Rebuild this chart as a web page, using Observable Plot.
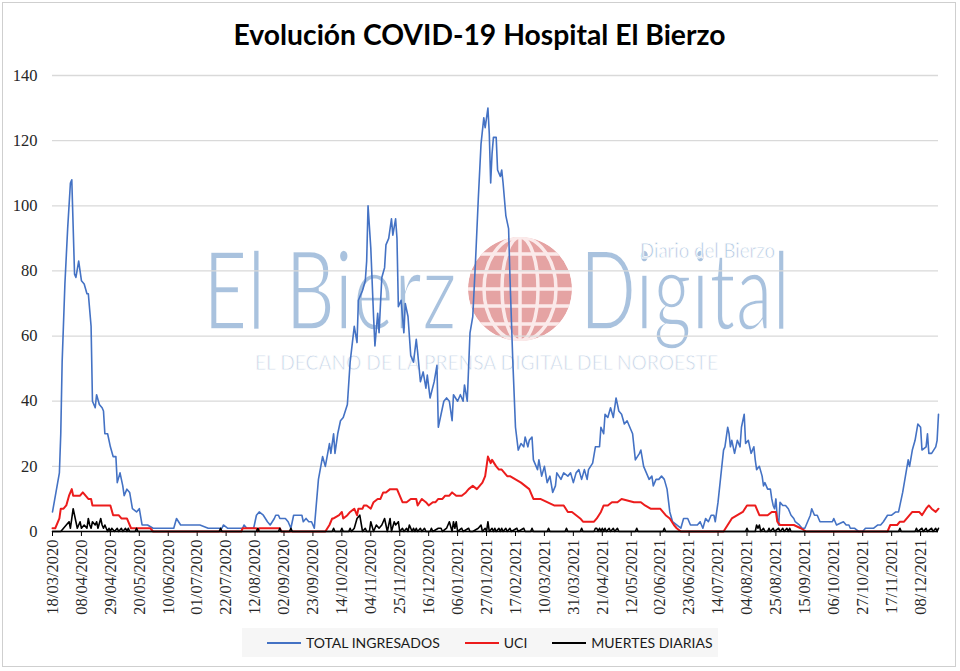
<!DOCTYPE html>
<html>
<head>
<meta charset="utf-8">
<script src="https://cdn.jsdelivr.net/npm/d3@7"></script>
<script src="https://cdn.jsdelivr.net/npm/@observablehq/plot@0.6"></script>
<style>
  html, body { margin: 0; padding: 0; background: #fff; }
  #wrap { position: relative; width: 960px; height: 671px; overflow: hidden; background: #fff; }
  #frame { position: absolute; left: 2px; top: 2px; width: 952px; height: 663px; border: 1.5px solid #cfcfcf; }
  #title { position: absolute; top: 17px; left: 0; width: 960px; text-align: center; font-family: Lato, "Open Sans", sans-serif; font-weight: 700; font-size: 28px; color: #000; white-space: nowrap; }
  #title span { display: inline-block; transform-origin: center; }
  #mark { position: absolute; left: 0; top: 0; }
  #chart { position: absolute; left: 0; top: 60px; }
  #legend { position: absolute; left: 242px; top: 628px; width: 476px; height: 29px; background: #f6f6f6; display: flex; align-items: center; font-family: Lato, "Open Sans", sans-serif; font-size: 14px; color: #1a1a1a; }
  .item { display: flex; align-items: center; }
  .sw { width: 34px; height: 0; border-top: 2px solid; margin-right: 5px; }
</style>
</head>
<body>
<div id="wrap">
  <svg id="mark" width="960" height="671">
    <defs><clipPath id="globeClip"><circle cx="520" cy="289" r="52"/></clipPath></defs>
    <g font-family="Lato, 'Open Sans', sans-serif" fill="#a9c2de" stroke="#fff">
      <text x="203" y="330" font-size="111" stroke-width="3.5" textLength="254" lengthAdjust="spacingAndGlyphs">El Bierz</text>
      <text x="580" y="330" font-size="111" stroke-width="3.5" textLength="210" lengthAdjust="spacingAndGlyphs">Digital</text>
      <text x="640" y="258" font-size="21" stroke-width="0.8" textLength="135" lengthAdjust="spacingAndGlyphs">Diario del Bierzo</text>
      <text x="255" y="370" font-size="21" stroke-width="0.8" fill="#c4d3e6" textLength="463" lengthAdjust="spacingAndGlyphs">EL DECANO DE LA PRENSA DIGITAL DEL NOROESTE</text>
    </g>
    <g clip-path="url(#globeClip)">
      <circle cx="520" cy="289" r="52" fill="#e5a3a3"/>
      <g stroke="#fbeaea" stroke-width="3.5" fill="none">
        <line x1="460" y1="254" x2="590" y2="254"/>
        <line x1="460" y1="272" x2="590" y2="272"/>
        <line x1="460" y1="289" x2="590" y2="289"/>
        <line x1="460" y1="306" x2="590" y2="306"/>
        <line x1="460" y1="324" x2="590" y2="324"/>
        <line x1="520" y1="230" x2="520" y2="350"/>
        <ellipse cx="520" cy="289" rx="18" ry="52"/>
        <ellipse cx="520" cy="289" rx="36" ry="52"/>
      </g>
    </g>
  </svg>
  <div id="frame"></div>
  <div id="title"><span>Evolución COVID-19 Hospital El Bierzo</span></div>
  <div id="chart"></div>
  <div id="legend"></div>
</div>
<script>
// ---- Datos (día desde 18/03/2020, valor) ----
const fechaInicio = "18/03/2020";
const diaFinal = 643;

const totalIngresados = [[0,6],[5,18],[6,30],[7,52],[9,76],[11,93],[13,107],[14,108],[16,79],[17,78],[19,83],[21,77],[23,76],[25,73],[26,73],[28,63],[29,40],[31,38],[32,42],[34,39],[36,38],[37,37],[38,30],[40,30],[42,26],[44,23],[46,23],[47,15],[49,18],[51,14],[52,11],[54,13],[56,12],[58,7],[61,6],[63,7],[65,2],[69,2],[73,1],[88,1],[90,4],[93,2],[107,2],[113,1],[123,1],[124,2],[127,1],[138,1],[139,2],[141,1],[146,1],[148,5],[150,6],[153,5],[156,3],[158,2],[161,4],[162,5],[164,5],[165,4],[169,4],[171,3],[173,1],[175,5],[177,5],[181,5],[182,3],[184,4],[186,3],[188,3],[190,1],[193,16],[196,23],[198,20],[201,27],[202,24],[204,30],[205,24],[207,30],[209,34],[211,35],[214,39],[216,52],[219,63],[221,58],[222,71],[225,74],[227,77],[228,83],[229,100],[231,87],[233,66],[234,57],[236,67],[237,61],[239,78],[241,81],[242,88],[244,90],[246,96],[247,91],[249,96],[250,90],[251,69],[253,71],[255,61],[256,70],[258,66],[260,54],[262,52],[264,59],[265,55],[267,46],[269,49],[271,44],[272,48],[274,41],[277,46],[279,51],[280,32],[282,36],[284,40],[286,41],[288,40],[290,34],[291,42],[294,40],[296,42],[298,40],[299,45],[301,40],[303,61],[305,66],[307,83],[309,102],[311,119],[313,127],[314,124],[316,130],[317,122],[318,107],[319,116],[320,121],[322,121],[323,111],[325,109],[326,111],[327,107],[329,97],[331,93],[332,78],[334,53],[336,32],[338,25],[340,27],[342,26],[343,29],[345,26],[346,28],[348,29],[349,22],[352,19],[353,22],[355,17],[357,20],[359,15],[361,17],[363,12],[365,14],[366,18],[369,16],[371,18],[374,17],[376,18],[378,15],[380,18],[382,19],[384,16],[386,19],[388,16],[389,19],[392,21],[394,26],[397,26],[398,32],[400,30],[401,36],[403,35],[405,38],[407,35],[409,41],[411,37],[413,36],[415,33],[417,34],[420,31],[421,30],[423,22],[426,24],[427,25],[429,20],[431,18],[433,16],[435,17],[436,14],[438,16],[440,16],[442,17],[444,16],[446,13],[448,6],[450,3],[453,2],[456,1],[458,4],[461,4],[463,2],[465,2],[468,2],[470,3],[472,1],[474,4],[476,3],[478,5],[480,5],[481,3],[483,9],[485,17],[487,25],[488,26],[490,32],[491,30],[492,26],[493,28],[495,24],[497,28],[499,26],[500,32],[502,36],[503,27],[505,28],[507,24],[509,26],[510,22],[511,19],[513,20],[515,17],[516,14],[517,15],[519,13],[521,13],[522,10],[523,8],[524,7],[525,10],[526,4],[527,2],[528,9],[530,8],[532,8],[534,7],[536,5],[538,4],[539,3],[542,2],[544,1],[546,1],[548,3],[550,5],[551,7],[553,5],[555,5],[557,3],[563,3],[566,3],[567,4],[569,2],[574,3],[576,2],[578,2],[579,1],[582,1],[585,0],[588,0],[590,1],[592,1],[596,1],[599,2],[601,2],[603,3],[606,5],[608,5],[609,5],[612,6],[614,6],[615,8],[617,12],[619,17],[621,22],[622,20],[624,25],[626,28],[628,33],[630,32],[631,25],[634,26],[635,30],[636,24],[638,24],[641,26],[642,28],[643,36]];

const uci = [[0,1],[2,1],[5,4],[6,7],[8,7],[10,8],[12,11],[14,13],[15,11],[20,11],[22,12],[24,11],[26,10],[28,10],[29,8],[42,8],[44,5],[48,5],[50,4],[54,4],[55,3],[57,1],[71,1],[73,0],[137,0],[138,1],[148,1],[149,0],[150,1],[165,1],[166,0],[198,0],[201,2],[203,4],[204,4],[208,5],[210,6],[211,4],[214,5],[216,6],[219,7],[221,5],[222,7],[225,7],[226,8],[228,8],[231,7],[233,9],[236,10],[238,10],[240,12],[242,12],[245,13],[247,13],[250,13],[251,12],[254,9],[257,9],[260,10],[264,10],[265,8],[268,10],[271,9],[273,8],[276,9],[278,9],[280,10],[283,10],[285,11],[288,11],[290,12],[293,11],[297,11],[300,12],[302,13],[305,14],[308,13],[312,15],[314,17],[316,23],[318,21],[319,22],[322,20],[324,19],[326,19],[330,17],[332,17],[336,16],[340,15],[343,14],[346,13],[349,10],[354,10],[359,9],[364,8],[371,8],[374,6],[377,6],[380,5],[383,4],[385,3],[393,3],[395,4],[398,6],[400,8],[403,8],[406,9],[410,9],[413,10],[422,9],[427,9],[430,8],[434,7],[441,7],[445,5],[448,4],[451,2],[453,1],[456,0],[487,0],[490,2],[493,4],[497,5],[501,6],[504,8],[508,8],[510,8],[513,5],[519,5],[522,6],[525,6],[526,3],[528,2],[538,2],[543,1],[547,0],[606,0],[608,2],[613,2],[615,3],[618,3],[620,4],[624,6],[629,6],[631,5],[634,7],[636,8],[638,7],[641,6],[643,7]];

const muertesDiarias = [[0,0],[6,0],[8,1],[10,2],[12,3],[13,1],[14,4],[15,7],[17,3],[18,1],[20,3],[21,1],[23,2],[25,1],[26,4],[27,2],[28,1],[29,3],[31,2],[32,3],[33,1],[35,4],[36,2],[37,1],[38,2],[40,0],[41,1],[42,0],[43,1],[45,0],[47,1],[48,0],[50,1],[51,0],[53,1],[54,0],[55,1],[56,0],[60,0],[61,1],[62,0],[121,0],[122,1],[123,0],[148,0],[149,1],[150,0],[164,0],[165,1],[166,0],[172,0],[173,1],[174,0],[203,0],[204,1],[205,0],[209,0],[210,1],[211,0],[215,0],[216,1],[217,0],[219,1],[221,4],[223,5],[225,0],[227,1],[228,0],[230,0],[231,3],[233,0],[235,2],[237,1],[239,2],[241,4],[243,0],[245,4],[246,0],[248,3],[249,2],[251,3],[252,0],[254,1],[255,0],[257,1],[258,0],[259,2],[261,0],[262,1],[263,0],[264,1],[265,0],[267,1],[268,0],[270,1],[271,0],[274,0],[275,1],[276,0],[280,1],[282,1],[283,0],[286,1],[288,3],[290,0],[291,3],[292,1],[293,3],[294,0],[297,1],[298,0],[302,1],[303,0],[305,0],[309,1],[311,2],[312,0],[314,1],[315,0],[316,3],[317,0],[319,1],[320,0],[321,1],[322,0],[324,1],[325,0],[326,1],[327,0],[329,1],[330,0],[332,1],[333,0],[337,1],[338,0],[342,1],[343,0],[347,0],[348,1],[349,0],[359,0],[360,1],[361,0],[372,0],[373,1],[374,0],[383,0],[384,1],[385,0],[393,0],[394,1],[395,1],[396,0],[397,1],[398,0],[399,1],[400,0],[401,1],[402,0],[404,1],[405,0],[407,1],[408,0],[410,1],[411,0],[423,0],[424,1],[425,0],[443,0],[444,1],[445,0],[503,0],[504,1],[505,0],[510,0],[511,2],[512,1],[513,2],[514,0],[516,1],[517,0],[519,0],[520,1],[521,0],[523,1],[524,0],[527,1],[528,0],[530,1],[531,0],[533,1],[534,0],[535,1],[536,0],[614,0],[615,1],[616,0],[626,0],[627,1],[628,0],[631,1],[632,0],[634,1],[635,0],[638,1],[639,0],[641,1],[642,0],[643,1]];

const seriesNombres = ["TOTAL INGRESADOS", "UCI", "MUERTES DIARIAS"];
const seriesColores = ["#4472c4", "#ec1c1c", "#000000"];
const seriesGrosor = [1.6, 2, 1.6];

const xTickLabels = ["18/03/2020","08/04/2020","29/04/2020","20/05/2020","10/06/2020","01/07/2020","22/07/2020","12/08/2020","02/09/2020","23/09/2020","14/10/2020","04/11/2020","25/11/2020","16/12/2020","06/01/2021","27/01/2021","17/02/2021","10/03/2021","31/03/2021","21/04/2021","12/05/2021","02/06/2021","23/06/2021","14/07/2021","04/08/2021","25/08/2021","15/09/2021","06/10/2021","27/10/2021","17/11/2021","08/12/2021"];
const yTicks = [0, 20, 40, 60, 80, 100, 120, 140];

// ---- Construcción ----
const parse = d3.utcParse("%d/%m/%Y");
const inicio = parse(fechaInicio);
const aFecha = d => d3.utcDay.offset(inicio, d);
const toRows = arr => arr.map(([d, v]) => ({fecha: aFecha(d), valor: v}));
const datos = [totalIngresados, uci, muertesDiarias].map(toRows);
const xTicks = xTickLabels.map(parse);

const chart = Plot.plot({
  width: 960,
  height: 565,
  marginLeft: 52,
  marginRight: 22,
  marginTop: 15,
  marginBottom: 94,
  style: {background: "transparent", fontFamily: "'Liberation Serif', serif", fontSize: "16.5px", color: "#262626"},
  x: {type: "utc", domain: [inicio, aFecha(diaFinal)], label: null},
  y: {domain: [0, 140], label: null},
  marks: [
    Plot.gridY(yTicks, {stroke: "#d9d9d9", strokeOpacity: 1, strokeWidth: 1.3}),
    Plot.axisY(yTicks, {tickSize: 0, tickPadding: 15, fontSize: 16.5, fill: "#262626", label: null}),
    Plot.axisX(xTicks, {tickFormat: d3.utcFormat("%d/%m/%Y"), tickRotate: -90, tickSize: 5, tickPadding: 3, fontSize: 16.5, stroke: "#000", fill: "#262626", label: null}),
    Plot.line(datos[0], {x: "fecha", y: "valor", stroke: seriesColores[0], strokeWidth: seriesGrosor[0]}),
    Plot.line(datos[1], {x: "fecha", y: "valor", stroke: seriesColores[1], strokeWidth: seriesGrosor[1]}),
    Plot.ruleY([0], {stroke: "#000", strokeWidth: 1.5}),
    Plot.line(datos[2], {x: "fecha", y: "valor", stroke: seriesColores[2], strokeWidth: seriesGrosor[2]})
  ]
});
document.getElementById("chart").appendChild(chart);

// Leyenda
const legend = document.getElementById("legend");
legend.style.paddingLeft = "25px";
legend.style.boxSizing = "border-box";
seriesNombres.forEach((n, i) => {
  const it = document.createElement("div");
  it.className = "item";
  it.style.marginRight = i < 2 ? "25px" : "0";
  const sw = document.createElement("div");
  sw.className = "sw";
  sw.style.borderTopColor = seriesColores[i];
  const t = document.createElement("span");
  t.textContent = n;
  it.appendChild(sw); it.appendChild(t);
  legend.appendChild(it);
});

// Ajuste de ancho del título
const ts = document.querySelector("#title span");
const w = ts.getBoundingClientRect().width;
ts.style.transform = `scaleX(${492 / w})`;
</script>
</body>
</html>
